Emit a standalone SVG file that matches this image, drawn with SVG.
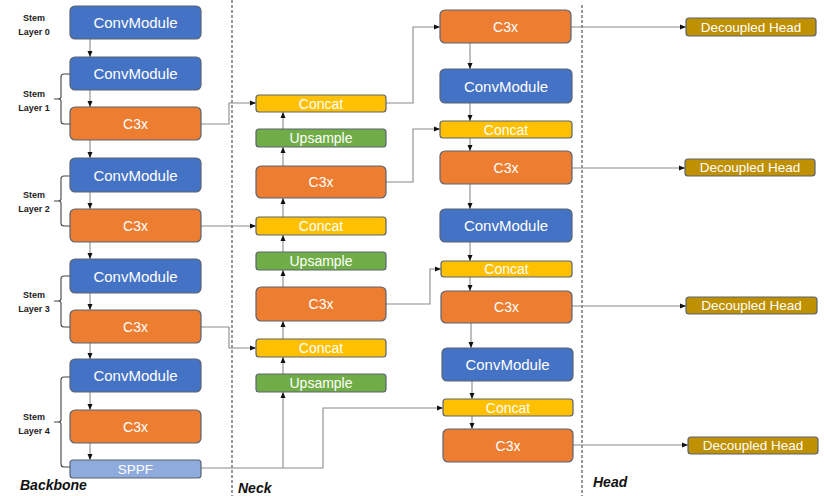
<svg xmlns="http://www.w3.org/2000/svg" width="824" height="496" viewBox="0 0 824 496">
<defs>
<marker id="ah" markerUnits="userSpaceOnUse" markerWidth="6" markerHeight="6" viewBox="0 0 6 6" refX="6" refY="3" orient="auto">
<path d="M0,0.5 L6,3 L0,5.5 Z" fill="#111"/>
</marker>
<style>
.box{stroke:#5a6473;stroke-width:1.2}
.cm{fill:#4472C4}
.c3{fill:#ED7D31}
.cc{fill:#FFC000}
.up{fill:#70AD47}
.sp{fill:#8FAADC}
.dh{fill:#BF9000}
.t{font-family:"Liberation Sans",Arial,sans-serif;fill:#fff;text-anchor:middle;dominant-baseline:central}
.t15{font-size:15px}
.t14{font-size:14px}
.t13{font-size:13.5px}
.st{font-family:"Liberation Sans",Arial,sans-serif;font-size:9px;font-weight:bold;fill:#222;text-anchor:middle}
.sec{font-family:"Liberation Sans",Arial,sans-serif;font-size:14px;font-weight:bold;font-style:italic;fill:#111}
.ln{fill:none;stroke:#8a8a8a;stroke-width:1.1}
.ar{fill:none;stroke:#8a8a8a;stroke-width:1.1;marker-end:url(#ah)}
.br{fill:none;stroke:#444;stroke-width:1.1}
.dash{stroke:#555;stroke-width:1.2;stroke-dasharray:3,2}
</style>
</defs>
<rect width="824" height="496" fill="#fff"/>

<g id="dividers">
<line class="dash" x1="232" y1="0" x2="232" y2="496"/>
<line class="dash" x1="582" y1="5" x2="582" y2="496"/>
</g>

<g id="section-labels">
<text class="sec" x="20" y="490">Backbone</text>
<text class="sec" x="238" y="493">Neck</text>
<text class="sec" x="593" y="487">Head</text>
</g>

<g id="stem-labels">
<text class="st" x="34" y="20.5">Stem</text><text class="st" x="34" y="34.5">Layer 0</text>
<text class="st" x="34" y="96.5">Stem</text><text class="st" x="34" y="110.5">Layer 1</text>
<text class="st" x="34" y="197.5">Stem</text><text class="st" x="34" y="211.5">Layer 2</text>
<text class="st" x="34" y="298">Stem</text><text class="st" x="34" y="312">Layer 3</text>
<text class="st" x="34" y="420">Stem</text><text class="st" x="34" y="433.5">Layer 4</text>
<path class="br" d="M70,74 H64 Q61,74 61,77 V97 Q61,99 58,99 H54 M58,99 Q61,99 61,101 V121 Q61,124 64,124 H70"/>
<path class="br" d="M70,176 H64 Q61,176 61,179 V199 Q61,201 58,201 H54 M58,201 Q61,201 61,203 V223 Q61,226 64,226 H70"/>
<path class="br" d="M70,276 H64 Q61,276 61,279 V299 Q61,301 58,301 H54 M58,301 Q61,301 61,303 V324 Q61,327 64,327 H70"/>
<path class="br" d="M70,377 H64 Q61,377 61,380 V420 Q61,422 58,422 H54 M58,422 Q61,422 61,424 V464 Q61,467 64,467 H70"/>
</g>

<g id="connectors">
<line class="ar" x1="90" y1="39" x2="90" y2="57"/>
<line class="ar" x1="90" y1="90" x2="90" y2="107"/>
<line class="ar" x1="90" y1="140" x2="90" y2="158"/>
<line class="ar" x1="90" y1="192" x2="90" y2="209"/>
<line class="ar" x1="90" y1="242" x2="90" y2="259"/>
<line class="ar" x1="90" y1="293" x2="90" y2="310"/>
<line class="ar" x1="90" y1="343" x2="90" y2="359"/>
<line class="ar" x1="90" y1="392" x2="90" y2="410"/>
<line class="ar" x1="90" y1="443" x2="90" y2="460"/>
<polyline class="ar" points="201,124 229,124 229,103 256,103"/>
<line class="ar" x1="201" y1="226" x2="256" y2="226"/>
<polyline class="ar" points="201,327 229,327 229,348 256,348"/>
<polyline class="ar" points="201,468 323,468 323,408 443,408"/>
<line class="ar" x1="283" y1="468" x2="283" y2="392"/>
<line class="ar" x1="283" y1="374" x2="283" y2="357"/>
<line class="ar" x1="283" y1="339" x2="283" y2="321"/>
<line class="ar" x1="283" y1="287" x2="283" y2="270"/>
<line class="ar" x1="283" y1="252" x2="283" y2="235"/>
<line class="ar" x1="283" y1="217" x2="283" y2="198"/>
<line class="ar" x1="283" y1="166" x2="283" y2="147"/>
<line class="ar" x1="283" y1="129" x2="283" y2="112"/>
<polyline class="ar" points="386,103 413,103 413,27 440,27"/>
<polyline class="ar" points="386,182 413,182 413,129 440,129"/>
<polyline class="ar" points="386,304 430,304 430,269 441,269"/>
<line class="ar" x1="470" y1="43" x2="470" y2="69"/>
<line class="ar" x1="470" y1="103" x2="470" y2="121"/>
<line class="ar" x1="470" y1="138" x2="470" y2="151"/>
<line class="ar" x1="470" y1="184" x2="470" y2="209"/>
<line class="ar" x1="470" y1="242" x2="470" y2="261"/>
<line class="ar" x1="470" y1="277" x2="470" y2="291"/>
<line class="ar" x1="471" y1="323" x2="471" y2="348"/>
<line class="ar" x1="472" y1="381" x2="472" y2="399"/>
<line class="ar" x1="472" y1="416" x2="472" y2="429"/>
<line class="ar" x1="571" y1="27" x2="686" y2="27"/>
<line class="ar" x1="572" y1="168" x2="685" y2="168"/>
<line class="ar" x1="572" y1="306" x2="686" y2="306"/>
<line class="ar" x1="573" y1="445" x2="688" y2="445"/>
</g>

<g id="b-conv0"><rect class="box cm" x="70" y="6" width="131" height="33" rx="5"/><text class="t t15" x="135.5" y="22.5">ConvModule</text></g>
<g id="b-conv1"><rect class="box cm" x="70" y="57" width="131" height="33" rx="5"/><text class="t t15" x="135.5" y="73.5">ConvModule</text></g>
<g id="b-c3x1"><rect class="box c3" x="70" y="107" width="131" height="33" rx="5"/><text class="t t14" x="135.5" y="123.5">C3x</text></g>
<g id="b-conv2"><rect class="box cm" x="70" y="158" width="131" height="34" rx="5"/><text class="t t15" x="135.5" y="175">ConvModule</text></g>
<g id="b-c3x2"><rect class="box c3" x="70" y="209" width="131" height="33" rx="5"/><text class="t t14" x="135.5" y="225.5">C3x</text></g>
<g id="b-conv3"><rect class="box cm" x="70" y="259" width="131" height="34" rx="5"/><text class="t t15" x="135.5" y="276">ConvModule</text></g>
<g id="b-c3x3"><rect class="box c3" x="70" y="310" width="131" height="33" rx="5"/><text class="t t14" x="135.5" y="326.5">C3x</text></g>
<g id="b-conv4"><rect class="box cm" x="70" y="359" width="131" height="33" rx="5"/><text class="t t15" x="135.5" y="375.5">ConvModule</text></g>
<g id="b-c3x4"><rect class="box c3" x="70" y="410" width="131" height="33" rx="5"/><text class="t t14" x="135.5" y="426.5">C3x</text></g>
<g id="b-sppf"><rect class="box sp" x="70" y="460" width="131" height="18" rx="3"/><text class="t t13" x="135.5" y="469.5">SPPF</text></g>

<g id="n-concat1"><rect class="box cc" x="256" y="95" width="130" height="17" rx="3"/><text class="t t14" x="321" y="103.5">Concat</text></g>
<g id="n-up1"><rect class="box up" x="256" y="129" width="130" height="18" rx="3"/><text class="t t14" x="321" y="138">Upsample</text></g>
<g id="n-c3x1"><rect class="box c3" x="256" y="166" width="130" height="32" rx="5"/><text class="t t14" x="321" y="182">C3x</text></g>
<g id="n-concat2"><rect class="box cc" x="256" y="217" width="130" height="18" rx="3"/><text class="t t14" x="321" y="226">Concat</text></g>
<g id="n-up2"><rect class="box up" x="256" y="252" width="130" height="18" rx="3"/><text class="t t14" x="321" y="261">Upsample</text></g>
<g id="n-c3x2"><rect class="box c3" x="256" y="287" width="130" height="34" rx="5"/><text class="t t14" x="321" y="304">C3x</text></g>
<g id="n-concat3"><rect class="box cc" x="256" y="339" width="130" height="18" rx="3"/><text class="t t14" x="321" y="348">Concat</text></g>
<g id="n-up3"><rect class="box up" x="256" y="374" width="130" height="18" rx="3"/><text class="t t14" x="321" y="383">Upsample</text></g>

<g id="h-c3x1"><rect class="box c3" x="440" y="10" width="131" height="33" rx="5"/><text class="t t14" x="505.5" y="26.5">C3x</text></g>
<g id="h-conv1"><rect class="box cm" x="440" y="69" width="132" height="34" rx="5"/><text class="t t15" x="506" y="86">ConvModule</text></g>
<g id="h-concat1"><rect class="box cc" x="440" y="121" width="132" height="17" rx="3"/><text class="t t14" x="506" y="129.5">Concat</text></g>
<g id="h-c3x2"><rect class="box c3" x="440" y="151" width="132" height="33" rx="5"/><text class="t t14" x="506" y="167.5">C3x</text></g>
<g id="h-conv2"><rect class="box cm" x="440" y="209" width="132" height="33" rx="5"/><text class="t t15" x="506" y="225.5">ConvModule</text></g>
<g id="h-concat2"><rect class="box cc" x="441" y="261" width="131" height="16" rx="3"/><text class="t t14" x="506.5" y="269">Concat</text></g>
<g id="h-c3x3"><rect class="box c3" x="441" y="291" width="131" height="32" rx="5"/><text class="t t14" x="506.5" y="307">C3x</text></g>
<g id="h-conv3"><rect class="box cm" x="442" y="348" width="131" height="33" rx="5"/><text class="t t15" x="507.5" y="364.5">ConvModule</text></g>
<g id="h-concat3"><rect class="box cc" x="443" y="399" width="130" height="17" rx="3"/><text class="t t14" x="508" y="407.5">Concat</text></g>
<g id="h-c3x4"><rect class="box c3" x="443" y="429" width="130" height="33" rx="5"/><text class="t t14" x="508" y="445.5">C3x</text></g>

<g id="dh1"><rect class="box dh" x="686" y="18" width="130" height="18" rx="3"/><text class="t t13" x="751" y="27">Decoupled Head</text></g>
<g id="dh2"><rect class="box dh" x="685" y="159" width="130" height="17" rx="3"/><text class="t t13" x="750" y="167.5">Decoupled Head</text></g>
<g id="dh3"><rect class="box dh" x="686" y="297" width="131" height="17" rx="3"/><text class="t t13" x="751.5" y="305.5">Decoupled Head</text></g>
<g id="dh4"><rect class="box dh" x="688" y="437" width="130" height="17" rx="3"/><text class="t t13" x="753" y="445.5">Decoupled Head</text></g>
</svg>
